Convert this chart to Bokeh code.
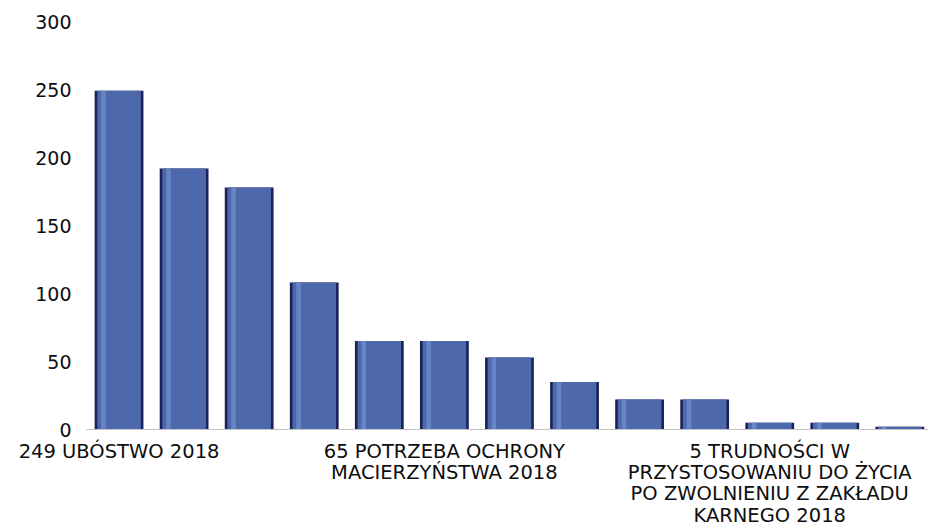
from bokeh.plotting import figure
from bokeh.models import Range1d, FixedTicker, ColumnDataSource
from bokeh.transform import dodge
from bokeh.embed import file_html
from bokeh.resources import INLINE

# data
positions = list(range(13))
values = [249, 192, 178, 108, 65, 65, 53, 35, 22, 22, 5, 5, 2]
label_positions = [0, 5, 10]
tick_labels = [
    "249 UBÓSTWO 2018",
    "65 POTRZEBA OCHRONY\nMACIERZYŃSTWA 2018",
    "5 TRUDNOŚCI W\nPRZYSTOSOWANIU DO ŻYCIA\nPO ZWOLNIENIU Z ZAKŁADU\nKARNEGO 2018",
]
y_ticks = [0, 50, 100, 150, 200, 250, 300]

src = ColumnDataSource(dict(x=positions, top=values))

p = figure(width=928, height=529, output_backend="svg", toolbar_location=None,
           x_range=Range1d(-0.5, 12.44), y_range=Range1d(0, 300),
           min_border_left=86, min_border_right=0, min_border_top=21,
           min_border_bottom=100)

p.vbar(x="x", top="top", width=0.75, source=src, fill_color="#1b2159", line_color=None)
p.vbar(x="x", top="top", width=0.67, source=src, fill_color="#4d69ab", line_color=None)
p.vbar(x=dodge("x", -0.24, range=p.x_range), top="top", width=0.07, source=src,
       fill_color="#7292cf", fill_alpha=0.7, line_color=None)

p.grid.visible = False
p.outline_line_color = None
p.background_fill_color = "white"
p.border_fill_color = "white"

xa = p.xaxis[0]
xa.ticker = FixedTicker(ticks=label_positions)
xa.major_label_overrides = {pos: lab for pos, lab in zip(label_positions, tick_labels)}
xa.axis_line_color = "#c4c4c4"
xa.axis_line_width = 1
xa.major_tick_line_color = None
xa.minor_tick_line_color = None
xa.major_label_standoff = 4
xa.major_label_text_font = "DejaVu Sans"
xa.major_label_text_font_size = "19.5px"
xa.major_label_text_color = "#0e0e0e"
xa.major_label_text_align = "center"
xa.major_label_text_line_height = 0.93

ya = p.yaxis[0]
ya.ticker = FixedTicker(ticks=y_ticks)
ya.axis_line_color = None
ya.major_tick_line_color = None
ya.minor_tick_line_color = None
ya.major_label_standoff = 9
ya.major_label_text_font = "DejaVu Sans"
ya.major_label_text_font_size = "19px"
ya.major_label_text_color = "#0e0e0e"

open("out.html", "w").write(file_html(p, INLINE))
